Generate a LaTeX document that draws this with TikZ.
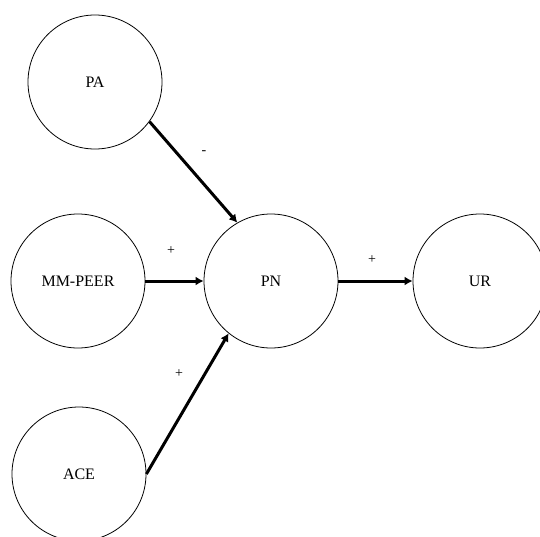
\documentclass[tikz,border=0pt]{standalone}
\usepackage{fontspec}
\setmainfont{Liberation Serif}
\usetikzlibrary{arrows.meta}
\begin{document}
\begin{tikzpicture}[x=1pt,y=-1pt,
  concept/.style={circle,draw,line width=0.8pt,minimum size=134pt,inner sep=0pt,font=\fontsize{16}{18}\selectfont},
  link/.style={line width=3pt,-{Latex[length=8pt,width=9pt]},shorten >=0pt},
  sign/.style={font=\fontsize{14}{16}\selectfont}]
\useasboundingbox (0,0) rectangle (540,536);
\node[concept] (PA) at (95,82) {PA};
\node[concept] (MM) at (78,281) {MM-PEER};
\node[concept] (PN) at (271,281) {PN};
\node[concept] (UR) at (480,281) {UR};
\node[concept] (ACE) at (79,474) {ACE};
\draw[link] (PA.-36) -- (PN.120);
\draw[link] (MM) -- (PN);
\draw[link] (PN) -- (UR);
\draw[link] (ACE.east) -- (PN.-129);
\node[sign] (s1) at (204,153) {-};
\node[sign] (s2) at (171,251) {+};
\node[sign] (s3) at (372,260) {+};
\node[sign] (s4) at (179,374) {+};
\end{tikzpicture}
\end{document}
